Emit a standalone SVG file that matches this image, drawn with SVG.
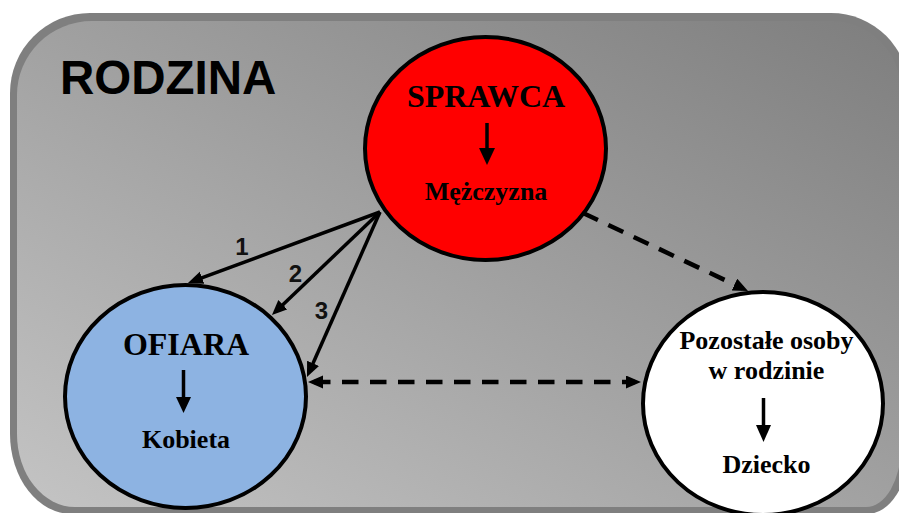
<svg xmlns="http://www.w3.org/2000/svg" width="899" height="513" viewBox="0 0 899 513">
  <defs>
    <linearGradient id="bg" x1="0" y1="1" x2="1" y2="0">
      <stop offset="0" stop-color="#c4c4c4"/>
      <stop offset="1" stop-color="#7e7e7e"/>
    </linearGradient>
    <marker id="ah" markerUnits="userSpaceOnUse" markerWidth="16" markerHeight="14" refX="9" refY="6.5" orient="auto-start-reverse" viewBox="0 0 16 14">
      <path d="M0,0 L15,6.5 L0,13 z" fill="#000"/>
    </marker>
    <style>
      .node { stroke: #000; stroke-width: 4; }
      .conn { stroke: #000; stroke-width: 3.5; fill: none; marker-end: url(#ah); }
      .dash { stroke-width: 4.5; stroke-dasharray: 16.5 11.5; }
      .title { font-family: "Liberation Serif", "Times New Roman", serif; font-weight: bold; font-size: 32px; text-anchor: middle; fill: #000; }
      .sub { font-family: "Liberation Serif", "Times New Roman", serif; font-weight: bold; font-size: 26px; text-anchor: middle; fill: #000; }
      .num { font-family: "Liberation Sans", Arial, sans-serif; font-weight: bold; font-size: 24px; text-anchor: middle; fill: #111; }
      .shaft { stroke: #000; stroke-width: 3.5; }
    </style>
  </defs>

  <g id="frame">
    <path d="M90,13 H831 A78,78 0 0 1 909,91 V447 A42,67 0 0 1 867,514 H72 A62,80 0 0 1 10,434 V93 A80,80 0 0 1 90,13 Z" fill="#7f7f7f"/>
    <path d="M92,21 H831 A70,70 0 0 1 901,91 V447 A35,60 0 0 1 866,507 H75 A58,73 0 0 1 17,434 V95 A75,74 0 0 1 92,21 Z" fill="url(#bg)"/>
    <text x="60" y="94" font-family="Liberation Sans, Arial, sans-serif" font-weight="bold" font-size="47.5" fill="#000">RODZINA</text>
  </g>

  <g id="connectors">
    <line class="conn" x1="380" y1="212" x2="193.6" y2="280.9"/>
    <line class="conn" x1="380" y1="212" x2="276.3" y2="310.9"/>
    <line class="conn" x1="380" y1="212" x2="309.4" y2="371.5"/>
    <line class="conn dash" x1="583" y1="213" x2="742.6" y2="288.4"/>
    <line class="conn dash" x1="314" y1="382" x2="635" y2="382" style="marker-start:url(#ah)"/>
    <text class="num" x="242" y="255">1</text>
    <text class="num" x="295.5" y="282">2</text>
    <text class="num" x="321.5" y="319">3</text>
  </g>

  <g id="sprawca">
    <ellipse class="node" cx="485.5" cy="148.5" rx="120.5" ry="111.5" fill="#ff0000"/>
    <text class="title" x="486" y="107">SPRAWCA</text>
    <line class="shaft" x1="487" y1="123" x2="487" y2="150"/>
    <polygon points="479,148 495,148 487,165" fill="#000"/>
    <text class="sub" x="486" y="200">Mężczyzna</text>
  </g>

  <g id="ofiara">
    <ellipse class="node" cx="185.5" cy="396.5" rx="120.5" ry="111.5" fill="#8db3e2"/>
    <text class="title" x="186" y="355">OFIARA</text>
    <line class="shaft" x1="183.5" y1="370" x2="183.5" y2="399"/>
    <polygon points="176,397 191,397 183.5,413" fill="#000"/>
    <text class="sub" x="186" y="448">Kobieta</text>
  </g>

  <g id="pozostale">
    <ellipse class="node" cx="763" cy="403.5" rx="120" ry="111.5" fill="#ffffff"/>
    <text class="sub" x="766.5" y="349">Pozostałe osoby</text>
    <text class="sub" x="766.5" y="379">w rodzinie</text>
    <line class="shaft" x1="763.5" y1="398" x2="763.5" y2="427"/>
    <polygon points="756,425 771,425 763.5,442" fill="#000"/>
    <text class="sub" x="766.5" y="473">Dziecko</text>
  </g>
</svg>
